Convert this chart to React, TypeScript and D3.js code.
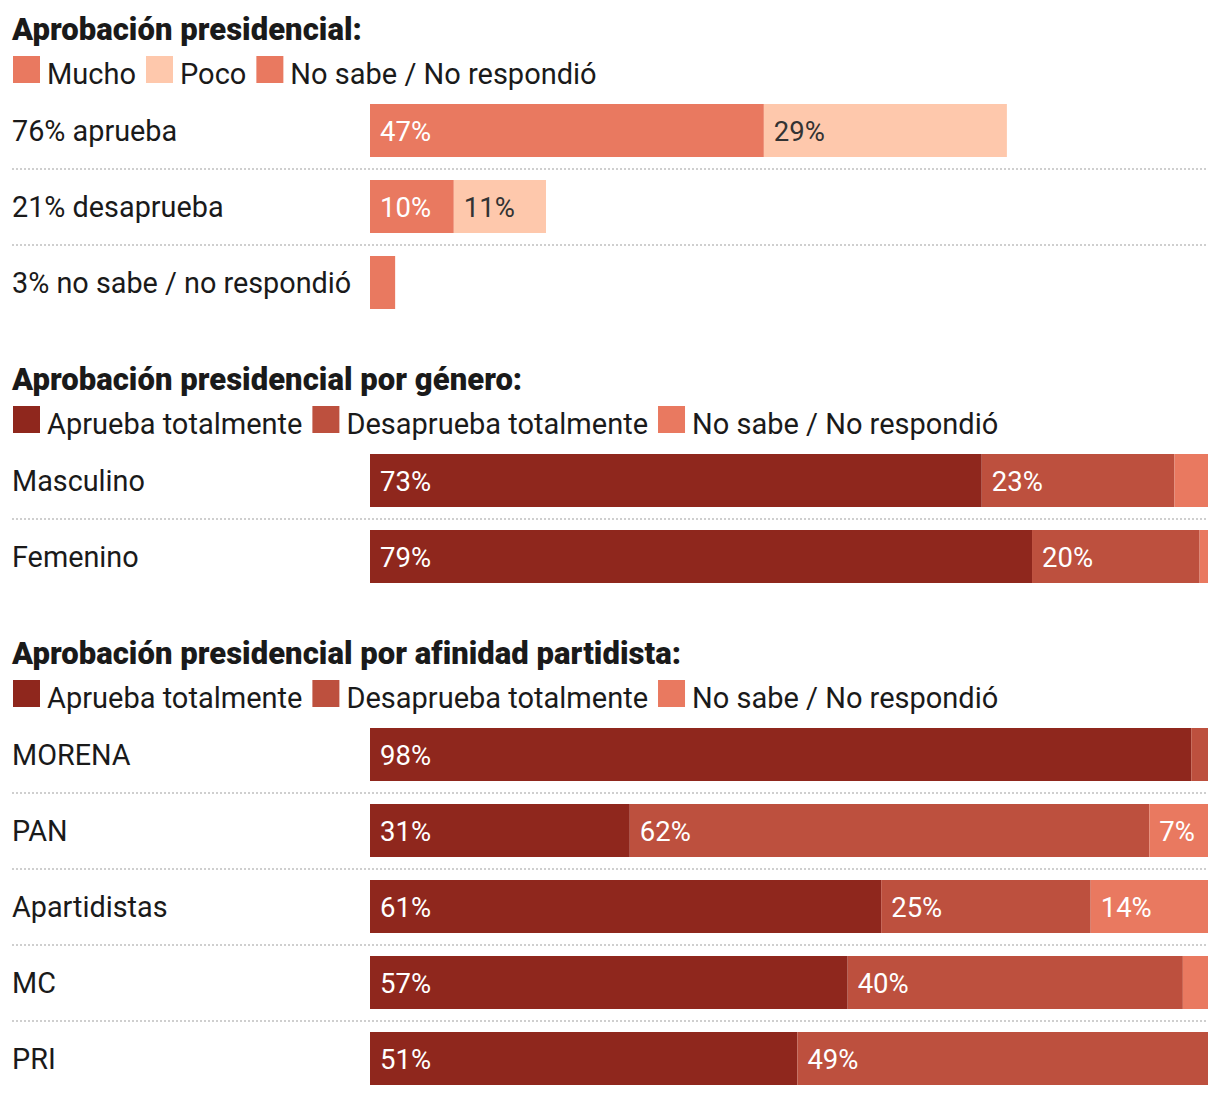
import * as d3 from "d3";
import { useMemo } from "react";

// colores
const DARK = "#8f271d";
const MID = "#bd503e";
const LIGHT = "#e97960";
const PALE = "#fec8ac";

// seccion 1
const generalRows = ["76% aprueba", "21% desaprueba", "3% no sabe / no respondió"];
const generalMucho = [47, 10, 0];
const generalPoco = [29, 11, 0];
const generalNoSabe = [0, 0, 3];
const generalLegend = ["Mucho", "Poco", "No sabe / No respondió"];

// seccion 2
const generoRows = ["Masculino", "Femenino"];
const generoAprueba = [73, 79];
const generoDesaprueba = [23, 20];
const generoNoSabe = [4, 1];

// seccion 3
const partidoRows = ["MORENA", "PAN", "Apartidistas", "MC", "PRI"];
const partidoAprueba = [98, 31, 61, 57, 51];
const partidoDesaprueba = [2, 62, 25, 40, 49];
const partidoNoSabe = [0, 7, 14, 3, 0];

const totalLegend = ["Aprueba totalmente", "Desaprueba totalmente", "No sabe / No respondió"];

const FONT = "Roboto, 'Noto Sans', sans-serif";
const W = 1220;
const H = 1096;
const X0 = 370;
const X1 = 1208;
const STEP = 76;
const BAR = 53;
const LABEL_SIZE = 28.8;
const LEGEND_SIZE = 29;

type Section = {
  title: string;
  top: number;
  rows: string[];
  series: number[][];
  colors: string[];
  textColors: string[];
  legend: string[];
  legendColors: string[];
};

const sections: Section[] = [
  {
    title: "Aprobación presidencial:",
    top: 104,
    rows: generalRows,
    series: [generalMucho, generalPoco, generalNoSabe],
    colors: [LIGHT, PALE, LIGHT],
    textColors: ["#fff", "#333", "#fff"],
    legend: generalLegend,
    legendColors: [LIGHT, PALE, LIGHT],
  },
  {
    title: "Aprobación presidencial por género:",
    top: 454,
    rows: generoRows,
    series: [generoAprueba, generoDesaprueba, generoNoSabe],
    colors: [DARK, MID, LIGHT],
    textColors: ["#fff", "#fff", "#fff"],
    legend: totalLegend,
    legendColors: [DARK, MID, LIGHT],
  },
  {
    title: "Aprobación presidencial por afinidad partidista:",
    top: 728,
    rows: partidoRows,
    series: [partidoAprueba, partidoDesaprueba, partidoNoSabe],
    colors: [DARK, MID, LIGHT],
    textColors: ["#fff", "#fff", "#fff"],
    legend: totalLegend,
    legendColors: [DARK, MID, LIGHT],
  },
];

const measure = (t: string, size: number) => {
  const c = document.createElement("canvas").getContext("2d")!;
  c.font = `${size}px ${FONT}`;
  return c.measureText(t).width;
};

const SectionBlock = ({ s }: { s: Section }) => {
  const x = d3.scaleLinear().domain([0, 100]).range([X0, X1]);
  const y = d3
    .scaleBand<string>()
    .domain(s.rows)
    .range([s.top, s.top + STEP * (s.rows.length - 1) + BAR])
    .paddingInner((STEP - BAR) / STEP)
    .paddingOuter(0);
  const bh = y.bandwidth();

  // leyenda
  let lx = 13;
  const legendItems = s.legend.map((l, i) => {
    const item = { l, x: lx, color: s.legendColors[i] };
    lx += 34 + measure(l, LEGEND_SIZE) + 10;
    return item;
  });

  return (
    <g>
      <text x={12} y={s.top - 64} fontSize={31} fontWeight={900} fill="#1a1a1a" fontFamily={FONT} letterSpacing={0.05}>
        {s.title}
      </text>
      {legendItems.map((it, i) => (
        <g key={i}>
          <rect x={it.x} y={s.top - 48} width={27} height={27} fill={it.color} />
          <text x={it.x + 34} y={s.top - 20} fontSize={LEGEND_SIZE} fill="#1a1a1a" fontFamily={FONT}>
            {it.l}
          </text>
        </g>
      ))}
      {s.rows.map((r, i) => {
        const y0 = y(r)!;
        let acc = 0;
        return (
          <g key={r}>
            <text x={12} y={y0 + bh / 2 + 10} fontSize={LABEL_SIZE} fill="#1a1a1a" fontFamily={FONT}>
              {r}
            </text>
            {s.series.map((ser, k) => {
              const v = ser[i];
              const start = acc;
              acc += v;
              if (!v) return null;
              return (
                <g key={k}>
                  <rect x={x(start)} y={y0} width={x(start + v) - x(start)} height={bh} fill={s.colors[k]} />
                  {v >= 5 && (
                    <text x={x(start) + 10} y={y0 + bh / 2 + 10} fontSize={27.5} fill={s.textColors[k]} fontFamily={FONT}>
                      {v}%
                    </text>
                  )}
                </g>
              );
            })}
            {i < s.rows.length - 1 && (
              <line
                x1={12}
                x2={X1}
                y1={y0 + bh + 12}
                y2={y0 + bh + 12}
                stroke="#cfcfcf"
                strokeWidth={2}
                strokeDasharray="2,2"
              />
            )}
          </g>
        );
      })}
    </g>
  );
};

export default function App() {
  const items = useMemo(() => sections, []);
  return (
    <svg width={W} height={H} style={{ display: "block", position: "absolute", left: 0, top: 0 }}>
      <rect width={W} height={H} fill="#fff" />
      {items.map((s, i) => (
        <SectionBlock key={i} s={s} />
      ))}
    </svg>
  );
}
